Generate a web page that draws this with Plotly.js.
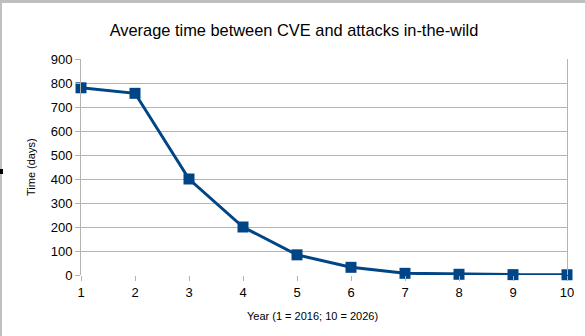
<!DOCTYPE html>
<html>
<head>
<meta charset="utf-8">
<script src="https://cdn.plot.ly/plotly-3.0.1.min.js"></script>
<style>
  html, body { margin: 0; padding: 0; background: #ffffff; }
  #wrap { position: relative; width: 585px; height: 336px; }
  #chart { width: 585px; height: 336px; }
  /* frame strips along the top and left edges, plus a small edge handle */
  .edge { position: absolute; background: #bfbfbf; pointer-events: none; z-index: 10; }
  #edge-top { left: 0; top: 0; width: 585px; height: 3px; }
  #edge-left { left: 0; top: 0; width: 2px; height: 336px; }
  #handle { position: absolute; left: 0; top: 169px; width: 3px; height: 5px; background: #000000; z-index: 11; }
</style>
</head>
<body>
<div id="wrap">
  <div id="chart"></div>
  <div class="edge" id="edge-top"></div>
  <div class="edge" id="edge-left"></div>
  <div id="handle"></div>
</div>
<script>
// Year index (1 = 2016 ... 10 = 2026) and mean days from CVE to in-the-wild attack
const years = [1, 2, 3, 4, 5, 6, 7, 8, 9, 10];
const avgDays = [780, 757, 400, 200, 84, 32, 7, 3, 1.5, 1];
const yTicks = [0, 100, 200, 300, 400, 500, 600, 700, 800, 900];

const W = 585, H = 336;
const m = { l: 81, r: 18, t: 59, b: 61 };
const pw = W - m.l - m.r, ph = H - m.t - m.b;
// pixel -> paper helpers for text placement
const px = x => (x - m.l) / pw;
const py = y => (H - m.b - y) / ph;

const grey = '#b3b3b3';
const font = 'Liberation Sans, Arial, sans-serif';

const trace = {
  x: years,
  y: avgDays,
  type: 'scatter',
  mode: 'lines+markers',
  line: { color: '#004586', width: 3 },
  marker: { symbol: 'square', size: 11, color: '#004586' },
  cliponaxis: false,
  hoverinfo: 'x+y'
};

const layout = {
  width: W,
  height: H,
  margin: m,
  paper_bgcolor: '#ffffff',
  plot_bgcolor: '#ffffff',
  showlegend: false,
  font: { family: font, color: '#000000' },
  title: {
    text: 'Average time between CVE and attacks in-the-wild',
    font: { family: font, size: 16.4, color: '#000000' },
    x: 294 / W, xref: 'container', xanchor: 'center',
    y: 1 - 30 / H, yref: 'container', yanchor: 'middle'
  },
  xaxis: {
    range: [1, 10],
    tickvals: years,
    ticktext: years.map(String),
    showgrid: false,
    zeroline: false,
    showline: false,
    ticks: 'outside',
    ticklen: 5,
    tickcolor: grey,
    tickwidth: 1,
    tickfont: { family: font, size: 13, color: '#000000' },
    fixedrange: true
  },
  yaxis: {
    range: [0, 900],
    tickvals: yTicks,
    ticktext: yTicks.map(String),
    showgrid: true,
    gridcolor: grey,
    gridwidth: 1,
    zeroline: false,
    showline: true,
    linecolor: grey,
    linewidth: 1,
    mirror: true,
    ticks: 'outside',
    ticklen: 5,
    tickcolor: grey,
    tickwidth: 1,
    tickfont: { family: font, size: 13, color: '#000000' },
    fixedrange: true
  },
  annotations: [
    {
      text: 'Year (1 = 2016; 10 = 2026)',
      xref: 'paper', yref: 'paper',
      x: px(312), y: py(316),
      xanchor: 'center', yanchor: 'middle',
      showarrow: false,
      font: { family: font, size: 11, color: '#000000' }
    },
    {
      text: 'Time (days)',
      xref: 'paper', yref: 'paper',
      x: px(31), y: py(167),
      xanchor: 'center', yanchor: 'middle',
      textangle: -90,
      showarrow: false,
      font: { family: font, size: 11, color: '#000000' }
    }
  ]
};

Plotly.newPlot('chart', [trace], layout, { displayModeBar: false, staticPlot: true });
</script>
</body>
</html>
